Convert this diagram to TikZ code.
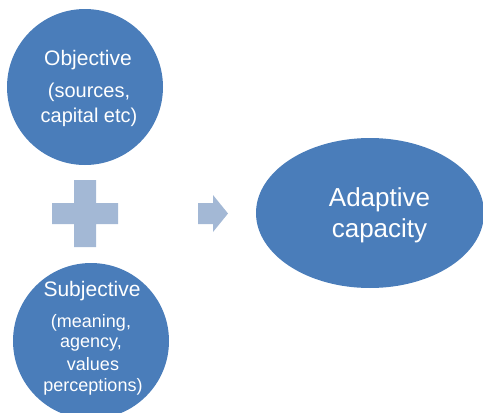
\documentclass[tikz,border=0pt]{standalone}
\usepackage{fontspec}
\setmainfont{Liberation Sans}
\usetikzlibrary{shapes.geometric}
\definecolor{blobblue}{HTML}{4A7DBA}
\definecolor{signblue}{HTML}{A3B8D5}
\tikzset{
    blob/.style={
        circle, fill=blobblue, inner sep=0pt, minimum size=#1
    },
    blob/.default=156pt,
    words/.style={
        text=white, inner sep=0pt, anchor=base
    },
    sign/.style={fill=signblue}
}
% one line of white text, set on its baseline
\newcommand{\blobline}[5] {
	\node[words] (#1) at (#2,#3) {\fontsize{#4}{#4}\selectfont #5};
}

\begin{document}
\begin{tikzpicture}[x=1pt,y=-1pt]
		\useasboundingbox (0,0) rectangle (483,413);

		% Left side
		\node[blob] (obj) at (85,87) {};
		\blobline{objtitle}{88}{65}{21}{Objective}
		\blobline{objsrc}{89}{97}{20}{(sources,}
		\blobline{objcap}{89}{122}{20}{capital etc)}

		\node[blob] (subj) at (91,341) {};
		\blobline{subjtitle}{92}{296}{21}{Subjective}
		\blobline{subjmean}{91}{327}{18}{(meaning,}
		\blobline{subjagency}{91}{347}{18}{agency,}
		\blobline{subjvalues}{93}{370}{18}{values}
		\blobline{subjperc}{93}{391}{18}{perceptions)}

		% Plus sign between them
		\fill[sign] (74,180) -- (96,180) -- (96,203) -- (118,203) -- (118,224) -- (96,224)
			-- (96,247) -- (74,247) -- (74,224) -- (52,224) -- (52,203) -- (74,203) -- cycle;

		% Block arrow
		\fill[sign] (198,203) -- (213,203) -- (213,195) -- (228,213.5) -- (213,232)
			-- (213,224) -- (198,224) -- cycle;

		% Right side
		\node[ellipse, fill=blobblue, inner sep=0pt, minimum width=228pt, minimum height=150pt]
			(cap) at (370,213) {};
		\blobline{captop}{379.5}{206}{26}{Adaptive}
		\blobline{capbottom}{379.5}{237}{26}{capacity}

	\end{tikzpicture}
\end{document}
